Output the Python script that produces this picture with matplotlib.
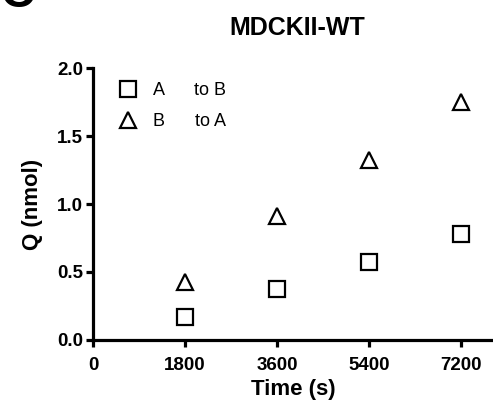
import numpy as np
import matplotlib.pyplot as plt

plt.rcParams['font.family'] = ['Liberation Sans', 'DejaVu Sans']

# data
time = [1800, 3600, 5400, 7200]
a_to_b = [0.17, 0.375, 0.575, 0.78]
b_to_a = [0.43, 0.915, 1.32, 1.75]

fig = plt.figure(figsize=(4.93, 4.15), dpi=100)
ax = fig.add_axes([93/493, 1-340/415, 400/493, 272/415])

ax.plot(time, a_to_b, 's', ms=11, mfc='white', mec='black', mew=1.6, ls='none', label='A      to B')
ax.plot(time, b_to_a, '^', ms=11, mfc='white', mec='black', mew=1.6, ls='none', label='B      to A')

ax.set_xlim(0, 7830)
ax.set_ylim(0, 2.0)
ax.set_xticks([0, 1800, 3600, 5400, 7200])
ax.set_yticks([0.0, 0.5, 1.0, 1.5, 2.0])
ax.set_yticklabels(['0.0', '0.5', '1.0', '1.5', '2.0'])

for s in ['top', 'right']:
    ax.spines[s].set_visible(False)
for s in ['left', 'bottom']:
    ax.spines[s].set_linewidth(2.3)
ax.tick_params(width=2.3, length=5, direction='out', labelsize=13.5, pad=2)
ax.tick_params(axis='x', pad=7)
for lab in ax.get_xticklabels() + ax.get_yticklabels():
    lab.set_fontweight('bold')

ax.set_xlabel('Time (s)', fontsize=16, fontweight='bold', labelpad=4)
ax.set_ylabel('Q (nmol)', fontsize=16, fontweight='bold', labelpad=10.5)
fig.text(297/493, 1-28/415, 'MDCKII-WT', ha='center', va='center', fontsize=18, fontweight='bold')
fig.text(0.0, 1-7/415, 'C', ha='left', va='baseline', fontsize=34, fontweight='bold')

ax.legend(loc='upper left', bbox_to_anchor=(0.035, 0.99), frameon=False, fontsize=13,
          handletextpad=0.9, labelspacing=0.75, handlelength=1.0, borderpad=0.15)

fig.savefig('out.png', dpi=100)
